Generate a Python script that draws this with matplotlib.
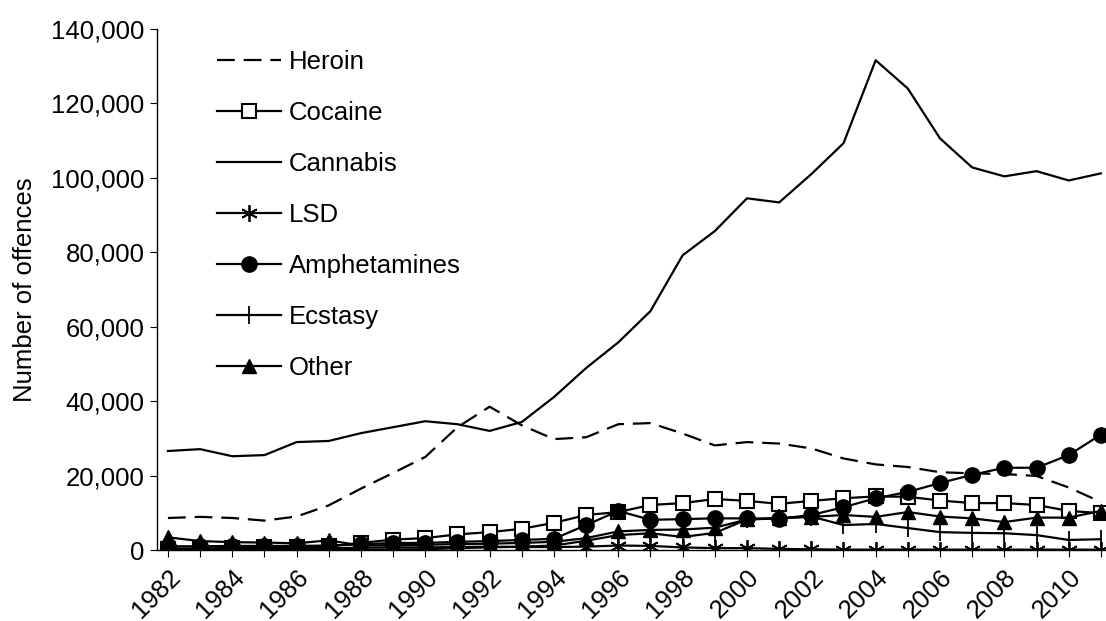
import numpy as np
import matplotlib
matplotlib.use("Agg")
import matplotlib.pyplot as plt
from matplotlib.ticker import FuncFormatter, MultipleLocator

plt.rcParams["font.family"] = ["Liberation Sans", "DejaVu Sans"]

# ---------------------------------------------------------------------------
# Data
# ---------------------------------------------------------------------------
years = list(range(1982, 2012))

heroin = [8600, 8900, 8600, 7900, 9000, 12000, 16500, 20700, 25000, 33000,
          38500, 33500, 29800, 30300, 33800, 34100, 31300, 28100, 29000, 28600,
          27300, 24600, 23000, 22300, 20900, 20600, 20400, 19900, 16800, 12900]
cocaine = [300, 300, 600, 700, 900, 1000, 1900, 2800, 3200, 4200,
           4800, 5700, 7300, 9400, 10200, 12100, 12600, 13700, 13200, 12400,
           13200, 13900, 14400, 14300, 13300, 12600, 12600, 12100, 10500, 9900]
cannabis = [26600, 27100, 25200, 25500, 29000, 29300, 31400, 33000, 34600, 33800,
            32000, 34400, 41100, 48900, 55800, 64200, 79200, 85700, 94500, 93400,
            101000, 109300, 131600, 124000, 110600, 102800, 100400, 101800, 99300, 101200]
lsd = [400, 400, 400, 400, 500, 500, 600, 700, 700, 800,
       900, 800, 800, 900, 1200, 1100, 700, 500, 500, 300,
       200, 100, 100, 100, 100, 100, 100, 100, 100, 100]
amphetamines = [1000, 1000, 1100, 1100, 1100, 1200, 1500, 1900, 1900, 2200,
                2400, 2700, 3000, 6700, 10500, 8100, 8300, 8500, 8500, 8400,
                9400, 11500, 13900, 15600, 18000, 20200, 22100, 22100, 25500, 31000]
ecstasy = [0, 0, 0, 0, 0, 0, 0, 100, 200, 500,
           700, 900, 1200, 2500, 4000, 4500, 3500, 4600, 8200, 8500,
           9000, 6700, 7000, 5900, 4800, 4600, 4500, 4000, 2700, 2900]
other = [3400, 2400, 2100, 2000, 1800, 2600, 1200, 1300, 1400, 1600,
         1700, 1900, 2200, 3200, 5000, 5400, 5500, 6000, 8200, 8600,
         8900, 9400, 8900, 10200, 9000, 8500, 7500, 8700, 8700, 10500]

# ---------------------------------------------------------------------------
# Figure
# ---------------------------------------------------------------------------
W, H = 1106, 621
fig = plt.figure(figsize=(W / 100, H / 100), dpi=100)
ax = fig.add_axes([157 / W, (H - 550) / H, (W - 157) / W, (550 - 29) / H])

LW = 1.6
FS = 18.5

ax.plot(years, heroin, color="black", lw=LW, linestyle=(0, (8, 4)), label="Heroin")
ax.plot(years, cocaine, color="black", lw=LW, marker="s", markersize=10,
        markerfacecolor="white", markeredgecolor="black", markeredgewidth=1.5,
        label="Cocaine")
ax.plot(years, cannabis, color="black", lw=LW, label="Cannabis")
ax.plot(years, lsd, color="black", lw=LW, marker=(6, 2, 0), markersize=12,
        markeredgewidth=1.3, label="LSD")
ax.plot(years, amphetamines, color="black", lw=LW, marker="o", markersize=11,
        label="Amphetamines")
ax.plot(years, ecstasy, color="black", lw=LW, marker="|", markersize=13,
        markeredgewidth=1.3, label="Ecstasy")
ax.plot(years, other, color="black", lw=LW, marker="^", markersize=10.5,
        label="Other")

# Axes
ax.set_xlim(1981.66, 2011.16)
ax.set_ylim(0, 140000)
ax.yaxis.set_major_locator(MultipleLocator(20000))
ax.yaxis.set_major_formatter(FuncFormatter(lambda v, p: f"{int(v):,}"))
ax.set_xticks(years)
ax.set_xticklabels([str(y) if (y - 1982) % 2 == 0 else "" for y in years],
                   rotation=45, ha="right", rotation_mode="anchor")
ax.tick_params(axis="both", direction="out", length=5, width=0.8,
               labelsize=FS, colors="black")
ax.tick_params(axis="x", pad=6)
ax.tick_params(axis="y", pad=4)

for s in ("top", "right"):
    ax.spines[s].set_visible(False)
for s in ("left", "bottom"):
    ax.spines[s].set_linewidth(1.0)

ax.set_ylabel("Number of offences", fontsize=FS, labelpad=10)

leg = ax.legend(loc="upper left", bbox_to_anchor=(217 / W, (H - 50) / H),
                bbox_transform=fig.transFigure, frameon=False, fontsize=FS,
                handlelength=2.5, handletextpad=0.3, labelspacing=1.05,
                borderpad=0, borderaxespad=0)

fig.savefig("out.png", dpi=100, facecolor="white")
